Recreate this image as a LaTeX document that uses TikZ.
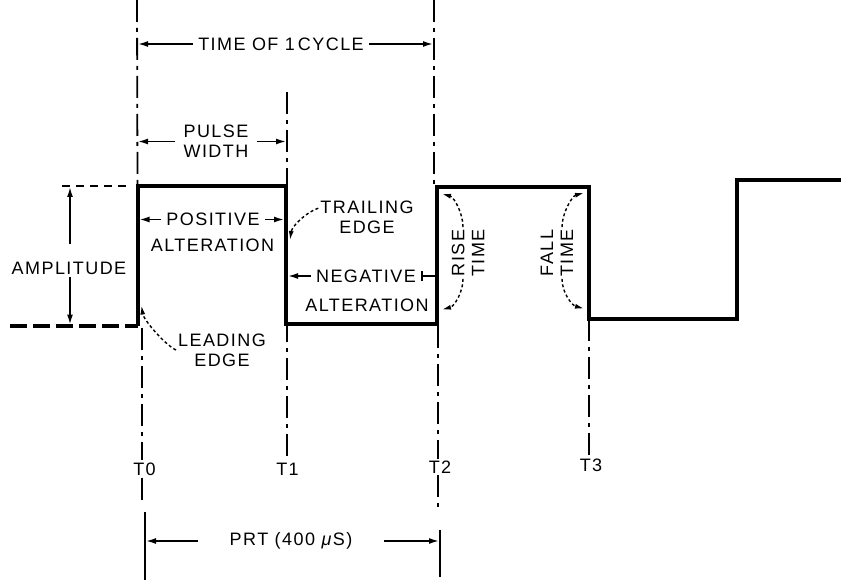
\documentclass[tikz,border=0pt]{standalone}
\usepackage{fontspec}
\setmainfont[LetterSpace=8]{Liberation Sans}
\usetikzlibrary{arrows.meta,calc}

\tikzset{
  wave/.style={line width=4pt, line join=miter},
  tline/.style={line width=1.8pt, dash pattern=on 22pt off 6pt on 4pt off 6pt},
  barline/.style={line width=1.8pt},
  dim/.style={line width=1.6pt, shorten >=1pt, -{Latex[length=10pt,width=6pt]}},
  leader/.style={line width=1.4pt, dash pattern=on 3pt off 2.5pt, -{Latex[length=9pt,width=5pt]}},
  lbl/.style={inner sep=2pt, align=center}
}

\begin{document}
\begin{tikzpicture}[x=1pt, y=-1pt, font=\fontsize{18}{20}\selectfont]

\useasboundingbox (0,0) rectangle (841,580);

%%%%%%%%%%%%%%%%%%%%%%%%%%%%%%%%%%%%%%%%%%%%%%%%%%%%%%
% WAVEFORM CORNERS
%%%%%%%%%%%%%%%%%%%%%%%%%%%%%%%%%%%%%%%%%%%%%%%%%%%%%%

\coordinate (lead0) at (137.5,325.5);
\coordinate (lead1) at (137.5,186);
\coordinate (trail1) at (286,186);
\coordinate (trail0) at (286,323.5);
\coordinate (rise0) at (437,323.5);
\coordinate (rise1) at (437,187);
\coordinate (fall1) at (589,187);
\coordinate (fall0) at (589,318.5);
\coordinate (next0) at (737,318.5);
\coordinate (next1) at (737,180.5);

%%%%%%%%%%%%%%%%%%%%%%%%%%%%%%%%%%%%%%%%%%%%%%%%%%%%%%
% TIME MARKS
%%%%%%%%%%%%%%%%%%%%%%%%%%%%%%%%%%%%%%%%%%%%%%%%%%%%%%

\node[lbl] (t0) at (144.5,469) {T0};
\node[lbl] (t1) at (287.5,469) {T1};
\node[lbl] (t2) at (440,467) {T2};
\node[lbl] (t3) at (591,465) {T3};

\coordinate (t0top) at (137,0);
\coordinate (t0foot) at (142,328);
\coordinate (t1top) at (287,92);
\coordinate (t2top) at (434,0);
\coordinate (t2foot) at (438,326);

\draw[tline] (t0top) -- (lead1);
\draw[tline] (t0foot) -- (t0foot |- t0.north);
\draw[tline] (t0.south -| t0foot) -- ++(0,24);
\draw[tline] (t1top) -- (t1top |- t1.north);
\draw[tline] (t2top) -- (rise1 -| t2top);
\draw[tline] (t2foot) -- (t2foot |- t2.north);
\draw[tline] (t2.south -| t2foot) -- ++(0,34);
\draw[tline] (fall0) -- (fall0 |- t3.north);

%%%%%%%%%%%%%%%%%%%%%%%%%%%%%%%%%%%%%%%%%%%%%%%%%%%%%%
% PULSE TRAIN
%%%%%%%%%%%%%%%%%%%%%%%%%%%%%%%%%%%%%%%%%%%%%%%%%%%%%%

\draw[wave, dash pattern=on 17pt off 6pt] (10,325.5) -- (lead0);
\draw[wave] (lead0) -- (lead1) -- (trail1) -- (trail0) -- (rise0) -- (rise1)
  -- (fall1) -- (fall0) -- (next0) -- (next1) -- (841,180.5);

%%%%%%%%%%%%%%%%%%%%%%%%%%%%%%%%%%%%%%%%%%%%%%%%%%%%%%
% CYCLE AND PULSE WIDTH
%%%%%%%%%%%%%%%%%%%%%%%%%%%%%%%%%%%%%%%%%%%%%%%%%%%%%%

\node[lbl, inner xsep=5pt] (cycle) at (281,44) {TIME OF 1\,CYCLE};
\draw[dim] (cycle.west) -- (cycle.west -| t0top);
\draw[dim] (cycle.east) -- (cycle.east -| t2top);

\node[lbl, inner xsep=8pt] (pulse) at (216,141.5) {PULSE\\WIDTH};
\draw[dim] (pulse.west) -- (pulse.west -| t0top);
\draw[dim] (pulse.east) -- (pulse.east -| t1top);

%%%%%%%%%%%%%%%%%%%%%%%%%%%%%%%%%%%%%%%%%%%%%%%%%%%%%%
% AMPLITUDE
%%%%%%%%%%%%%%%%%%%%%%%%%%%%%%%%%%%%%%%%%%%%%%%%%%%%%%

\coordinate (amptop) at (70,186);
\coordinate (ampbot) at (70,325.5);
\draw[line width=1.5pt, dash pattern=on 8pt off 6pt] (62,186) -- (131,186);

\node[lbl] (amp) at (69,268.5) {AMPLITUDE};
\draw[dim] ([xshift=1pt,yshift=16pt]amp.north) -- (amptop);
\draw[dim] ([xshift=1pt]amp.south) -- (ampbot);

%%%%%%%%%%%%%%%%%%%%%%%%%%%%%%%%%%%%%%%%%%%%%%%%%%%%%%
% ALTERATIONS
%%%%%%%%%%%%%%%%%%%%%%%%%%%%%%%%%%%%%%%%%%%%%%%%%%%%%%

\node[lbl, inner xsep=5pt] (pos) at (213,219.5) {POSITIVE};
\node[lbl] (posalt) at (212.5,245) {ALTERATION};
\draw[dim, shorten >=2pt] (pos.west) -- (pos.west -| lead1);
\draw[dim, shorten >=2pt] (pos.east) -- (pos.east -| trail1);

\node[lbl, inner xsep=5pt] (neg) at (366,276) {NEGATIVE};
\node[lbl] (negalt) at (367,305.5) {ALTERATION};
\draw[dim, shorten >=2pt] (neg.west) -- (neg.west -| trail0);
\draw[line width=1.6pt, shorten >=2pt, {Bar[width=10pt]}-] (neg.east) -- (neg.east -| rise0);

%%%%%%%%%%%%%%%%%%%%%%%%%%%%%%%%%%%%%%%%%%%%%%%%%%%%%%
% EDGES
%%%%%%%%%%%%%%%%%%%%%%%%%%%%%%%%%%%%%%%%%%%%%%%%%%%%%%

\node[lbl] (leading) at (222,350) {LEADING\\EDGE};
\draw[leader] (leading.west) .. controls +(-12,-6) and +(2,14) .. ([xshift=4pt,yshift=20pt]lead0);

\node[lbl] (trailing) at (367,217.5) {TRAILING\\EDGE};
\draw[leader] ($(trailing.west)!0.5!(trailing.north west)$)
  .. controls +(-12,4) and +(2,-14) .. ([xshift=4pt,yshift=-54pt]trail1);

%%%%%%%%%%%%%%%%%%%%%%%%%%%%%%%%%%%%%%%%%%%%%%%%%%%%%%
% RISE AND FALL
%%%%%%%%%%%%%%%%%%%%%%%%%%%%%%%%%%%%%%%%%%%%%%%%%%%%%%

\node[lbl, rotate=90] (risetime) at (468,253) {RISE\\TIME};
\draw[leader] ([xshift=-5pt]risetime.east) .. controls +(0,-14) and +(12,3) .. ([xshift=5pt,yshift=-7pt]rise1);
\draw[leader] ([xshift=-5pt]risetime.west) .. controls +(0,14) and +(12,-3) .. ([xshift=5pt,yshift=14pt]rise0);

\node[lbl, rotate=90] (falltime) at (557,253) {FALL\\TIME};
\draw[leader] ([xshift=5pt]falltime.east) .. controls +(0,-14) and +(-12,3) .. ([xshift=-5pt,yshift=-6pt]fall1);
\draw[leader] ([xshift=5pt]falltime.west) .. controls +(0,14) and +(-12,-3) .. ([xshift=-5pt,yshift=10pt]fall0);

%%%%%%%%%%%%%%%%%%%%%%%%%%%%%%%%%%%%%%%%%%%%%%%%%%%%%%
% PRT
%%%%%%%%%%%%%%%%%%%%%%%%%%%%%%%%%%%%%%%%%%%%%%%%%%%%%%

\draw[barline] (145,512) -- (145,580);
\draw[barline] (440,530) -- (440,577);
\node[lbl, inner xsep=32pt] (prt) at (291,541) {PRT (400 \textit{μ}S)};
\draw[dim] (prt.west) -- (prt.west -| 145,0);
\draw[dim] (prt.east) -- (prt.east -| 440,0);

\end{tikzpicture}
\end{document}
